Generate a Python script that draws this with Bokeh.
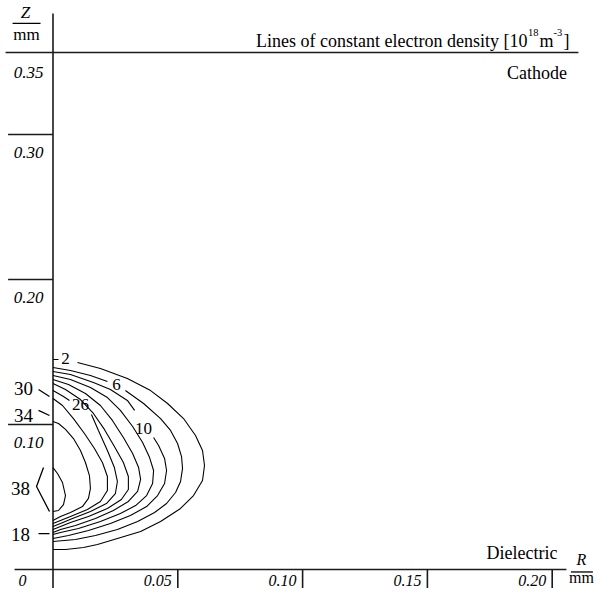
from bokeh.plotting import figure
from bokeh.models import Range1d
from bokeh.embed import file_html
from bokeh.resources import INLINE
from bokeh.core.properties import value

# ---------------- data (R, Z in mm) ----------------
levels = [2, 6, 10, 14, 18, 22, 26, 30, 34, 38]

r_2 = [0, 0.0022, 0.0098, 0.0190, 0.0298, 0.0391, 0.0459, 0.0523, 0.0571, 0.0599, 0.0607,
       0.0599, 0.0563, 0.0511, 0.0431, 0.0351, 0.0258, 0.0178, 0.0122, 0.0050, 0]
z_2 = [0.1448, 0.1448, 0.1428, 0.1386, 0.1317, 0.1234, 0.1145, 0.1041, 0.0924, 0.0821, 0.0717,
       0.0614, 0.0510, 0.0421, 0.0331, 0.0262, 0.0214, 0.0172, 0.0152, 0.0138, 0.0138]

r_6 = [0, 0.0070, 0.0150, 0.0218, 0.0290, 0.0363, 0.0431, 0.0471, 0.0499, 0.0515, 0.0519,
       0.0511, 0.0491, 0.0455, 0.0407, 0.0339, 0.0258, 0.0170, 0.0090, 0]
z_6 = [0.1393, 0.1372, 0.1338, 0.1297, 0.1234, 0.1145, 0.1041, 0.0959, 0.0869, 0.0779, 0.0697,
       0.0607, 0.0531, 0.0455, 0.0393, 0.0331, 0.0276, 0.0234, 0.0207, 0.0193]

r_10 = [0, 0.0070, 0.0162, 0.0230, 0.0298, 0.0327, 0.0403, 0.0423, 0.0447, 0.0455, 0.0447,
        0.0419, 0.0375, 0.0310, 0.0230, 0.0142, 0.0062, 0]
z_10 = [0.1366, 0.1345, 0.1290, 0.1241, 0.1166, 0.1097, 0.0910, 0.0855, 0.0766, 0.0683, 0.0593,
        0.0510, 0.0434, 0.0372, 0.0317, 0.0269, 0.0234, 0.0214]

r_14 = [0, 0.0070, 0.0150, 0.0218, 0.0270, 0.0319, 0.0359, 0.0387, 0.0403, 0.0399, 0.0375,
        0.0331, 0.0270, 0.0190, 0.0102, 0.0030, 0]
z_14 = [0.1338, 0.1310, 0.1255, 0.1186, 0.1097, 0.0986, 0.0876, 0.0772, 0.0683, 0.0593, 0.0510,
        0.0441, 0.0386, 0.0331, 0.0283, 0.0255, 0.0241]

r_18 = [0, 0.0062, 0.0130, 0.0190, 0.0238, 0.0282, 0.0319, 0.0343, 0.0351, 0.0339, 0.0302,
        0.0242, 0.0170, 0.0090, 0.0030, 0]
z_18 = [0.1310, 0.1276, 0.1214, 0.1131, 0.1028, 0.0910, 0.0800, 0.0703, 0.0621, 0.0538, 0.0469,
        0.0407, 0.0352, 0.0303, 0.0276, 0.0255]

r_22 = [0, 0.0050, 0.0110, 0.0162, 0.0206, 0.0246, 0.0282, 0.0302, 0.0302, 0.0274, 0.0218,
        0.0142, 0.0070, 0]
z_22 = [0.1283, 0.1241, 0.1172, 0.1076, 0.0966, 0.0848, 0.0738, 0.0641, 0.0552, 0.0483, 0.0421,
        0.0366, 0.0324, 0.0276]

r_26 = [0, 0.0042, 0.0066, 0.0154, 0.0182, 0.0218, 0.0246, 0.0258, 0.0250, 0.0214, 0.0150,
        0.0078, 0.0030, 0]
z_26 = [0.1234, 0.1193, 0.1166, 0.1069, 0.0959, 0.0821, 0.0703, 0.0607, 0.0524, 0.0455, 0.0400,
        0.0352, 0.0317, 0.0297]

r_30 = [0, 0.0038, 0.0082, 0.0126, 0.0166, 0.0198, 0.0218, 0.0218, 0.0190, 0.0138, 0.0070, 0]
z_30 = [0.1179, 0.1131, 0.1041, 0.0938, 0.0834, 0.0738, 0.0641, 0.0545, 0.0469, 0.0414, 0.0366, 0.0317]

r_34 = [0, 0.0022, 0.0050, 0.0082, 0.0110, 0.0130, 0.0146, 0.0150, 0.0142, 0.0118, 0.0070, 0.0030, 0]
z_34 = [0.1021, 0.1007, 0.0966, 0.0903, 0.0821, 0.0738, 0.0648, 0.0559, 0.0490, 0.0434, 0.0393,
        0.0366, 0.0338]

r_38 = [0, 0.0018, 0.0038, 0.0050, 0.0042, 0.0022, 0]
z_38 = [0.0703, 0.0662, 0.0600, 0.0510, 0.0448, 0.0407, 0.0400]

# inline contour labels (the line is broken after the given point index)
inline_levels = ["2", "6", "10", "26"]
inline_r = [0.0050, 0.0254, 0.0363, 0.0110]
inline_z = [0.1455, 0.1276, 0.0972, 0.1138]
label_gap = {2: 1, 6: 3, 10: 5, 26: 2}

# outside contour labels with leader marks
side_levels = ["30", "34", "38", "18"]
side_r = [-0.0118, -0.0118, -0.0130, -0.0130]
side_z = [0.1248, 0.1062, 0.0559, 0.0241]
leader_r = [[-0.0058, -0.0014], [-0.0058, -0.0014], [-0.0038, -0.0066, -0.0014], [-0.0058, -0.0014]]
leader_z = [[0.1241, 0.1193], [0.1097, 0.1062], [0.0703, 0.0572, 0.0400], [0.0248, 0.0248]]

x_ticks = [0.05, 0.10, 0.15, 0.20]
x_tick_labels = ["0.05", "0.10", "0.15", "0.20"]
y_ticks = [0.10, 0.20, 0.30]
y_tick_labels = ["0.10", "0.20", "0.30"]
cathode_z = 0.3566
cathode_label = "0.35"

# ---------------- figure ----------------
X0, X1 = -0.021034, 0.217348
Y0, Y1 = -0.013103, 0.392414
p = figure(width=595, height=588, x_range=Range1d(X0, X1), y_range=Range1d(Y0, Y1),
           x_axis_type=None, y_axis_type=None, toolbar_location=None,
           output_backend="svg", min_border=0)
p.outline_line_color = None
p.background_fill_color = "white"

SERIF = value("Liberation Serif")
AX = "#1a1a1a"
TICK_FS = "17px"
XTICK_FS = "16px"
BOTTOM_Z = -0.0112   # text bottom kept just inside the lower edge

# axes and reference lines
p.segment(x0=[0], y0=[Y0], x1=[0], y1=[0.3834], line_color=AX, line_width=1.6)
p.segment(x0=[-0.0154], y0=[0], x1=[0.2057], y1=[0], line_color=AX, line_width=1.6)
p.segment(x0=[-0.0190], y0=[cathode_z], x1=[0.2105], y1=[cathode_z], line_color=AX, line_width=1.6)

# y ticks (lines to the left, labels below)
p.segment(x0=[-0.0180] * len(y_ticks), y0=y_ticks, x1=[0] * len(y_ticks), y1=y_ticks,
          line_color=AX, line_width=1.6)
p.text(x=[-0.0098] * len(y_ticks), y=[t - 0.0124 for t in y_ticks], text=y_tick_labels,
       text_font=SERIF, text_font_style="italic", text_font_size=TICK_FS,
       text_align="center", text_baseline="middle", text_color="black")
p.text(x=[-0.0098], y=[cathode_z - 0.0140], text=[cathode_label],
       text_font=SERIF, text_font_style="italic", text_font_size=TICK_FS,
       text_align="center", text_baseline="middle", text_color="black")

# x ticks (lines downward, labels to the left)
p.segment(x0=x_ticks, y0=[0] * len(x_ticks), x1=x_ticks, y1=[Y0] * len(x_ticks),
          line_color=AX, line_width=1.6)
p.text(x=[t - 0.0024 for t in x_ticks], y=[BOTTOM_Z] * len(x_ticks), text=x_tick_labels,
       text_font=SERIF, text_font_style="italic", text_font_size=XTICK_FS,
       text_align="right", text_baseline="bottom", text_color="black")
p.text(x=[-0.0122], y=[BOTTOM_Z], text=["0"],
       text_font=SERIF, text_font_style="italic", text_font_size=XTICK_FS,
       text_align="center", text_baseline="bottom", text_color="black")

# axis unit labels Z/mm and R/mm
p.text(x=[-0.0110], y=[0.3841], text=["Z"], text_font=SERIF, text_font_style="italic",
       text_font_size="17px", text_align="center", text_baseline="middle", text_color="black")
p.segment(x0=[-0.0162], y0=[0.3766], x1=[-0.0050], y1=[0.3766], line_color="black", line_width=1.3)
p.text(x=[-0.0106], y=[0.3690], text=["mm"], text_font=SERIF,
       text_font_size="17px", text_align="center", text_baseline="middle", text_color="black")

p.text(x=[0.2117], y=[0.0066], text=["R"], text_font=SERIF, text_font_style="italic",
       text_font_size="16px", text_align="center", text_baseline="middle", text_color="black")
p.segment(x0=[0.2075], y0=[-0.0017], x1=[0.2163], y1=[-0.0017], line_color="black", line_width=1.3)
p.text(x=[0.2117], y=[BOTTOM_Z], text=["mm"], text_font=SERIF,
       text_font_size="16px", text_align="center", text_baseline="bottom", text_color="black")

# title with superscripts
p.text(x=[0.1901], y=[0.3648], text=["Lines of constant electron density [10"], text_font=SERIF,
       text_font_size="18px", text_align="right", text_baseline="alphabetic", text_color="black")
p.text(x=[0.1903], y=[0.3703], text=["18"], text_font=SERIF,
       text_font_size="10.5px", text_align="left", text_baseline="alphabetic", text_color="black")
p.text(x=[0.1949], y=[0.3648], text=["m"], text_font=SERIF,
       text_font_size="18px", text_align="left", text_baseline="alphabetic", text_color="black")
p.text(x=[0.2005], y=[0.3703], text=["-3"], text_font=SERIF,
       text_font_size="10.5px", text_align="left", text_baseline="alphabetic", text_color="black")
p.text(x=[0.2045], y=[0.3648], text=["]"], text_font=SERIF,
       text_font_size="18px", text_align="left", text_baseline="alphabetic", text_color="black")

p.text(x=[0.2059], y=[0.3421], text=["Cathode"], text_font=SERIF,
       text_font_size="18px", text_align="right", text_baseline="middle", text_color="black")
p.text(x=[0.2021], y=[0.0117], text=["Dielectric"], text_font=SERIF,
       text_font_size="18px", text_align="right", text_baseline="middle", text_color="black")

# contours
contours = [(2, r_2, z_2), (6, r_6, z_6), (10, r_10, z_10), (14, r_14, z_14), (18, r_18, z_18),
            (22, r_22, z_22), (26, r_26, z_26), (30, r_30, z_30), (34, r_34, z_34), (38, r_38, z_38)]
xs, ys = [], []
for lev, r, z in contours:
    g = label_gap.get(lev)
    if g is None:
        xs.append(r)
        ys.append(z)
    else:
        xs.append(r[:g + 1]); ys.append(z[:g + 1])
        xs.append(r[g + 1:]); ys.append(z[g + 1:])
p.multi_line(xs, ys, line_color="black", line_width=1.1)

p.text(x=inline_r, y=inline_z, text=inline_levels, text_font=SERIF, text_font_size="17px",
       text_align="center", text_baseline="middle", text_color="black")
p.text(x=side_r, y=side_z, text=side_levels, text_font=SERIF, text_font_size="19px",
       text_align="center", text_baseline="middle", text_color="black")
p.multi_line(leader_r, leader_z, line_color="black", line_width=1.3)

open("out.html", "w").write(file_html(p, INLINE))
